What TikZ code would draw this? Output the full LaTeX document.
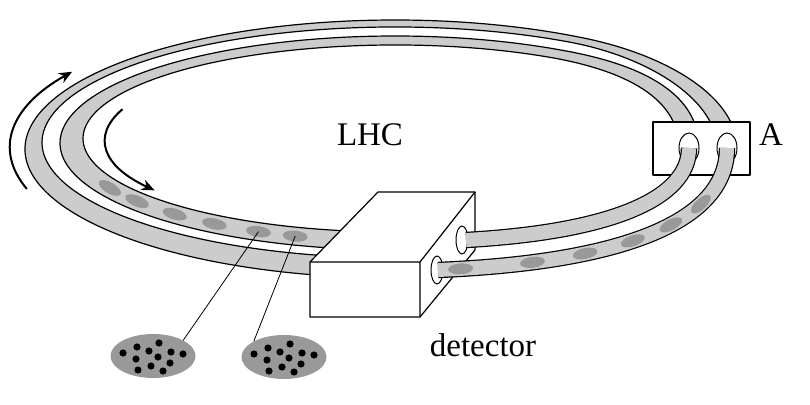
\documentclass[tikz,border=0pt]{standalone}
\usepackage{fontspec}
\setmainfont{Liberation Serif}
\usetikzlibrary{shapes.geometric}
\usetikzlibrary{arrows.meta}
\usetikzlibrary{calc}
\definecolor{tubegray}{HTML}{CCCCCC}
\definecolor{bunchgray}{HTML}{999999}

\begin{document}
\begin{tikzpicture}[x=1pt,y=1pt,
    wall/.style={draw=black,line width=1.2pt,fill=tubegray,line join=round},
    tube/.style={draw=black,line width=1.2pt,double=tubegray,double distance=14pt},
    bunch/.style={ellipse,fill=bunchgray,inner sep=0pt,minimum width=25pt,minimum height=11pt},
    beam/.style={ellipse,fill=bunchgray,inner sep=0pt,minimum width=85pt,minimum height=44pt},
    hole/.style={ellipse,draw,line width=1pt,fill=white,inner sep=0pt},
    turn/.style={line width=2pt,-{Stealth[length=13pt,width=11pt]}},
    box/.style={draw,line width=1.2pt,fill=white,line join=round}]
  \useasboundingbox (0,0) rectangle (810,404);

  % ring, outer beam pipe
  \filldraw[wall] (395,255) ++(262:370 and 129) arc[start angle=262,end angle=60,x radius=370,y radius=129]
    .. controls +(-11:90) and +(90:50) .. (737,256) -- (717,256)
    .. controls +(90:45) and +(-11:85) .. ($(395,261.5)+(60:353 and 115.5)$)
    arc[start angle=60,end angle=262,x radius=353,y radius=115.5] -- cycle;
  % ring, inner beam pipe
  \filldraw[wall] (395,261) ++(262:335 and 107) arc[start angle=262,end angle=60,x radius=335,y radius=107]
    .. controls +(-10:90) and +(90:50) .. (699,256) -- (679,256)
    .. controls +(90:45) and +(-10:85) .. ($(395,265.5)+(60:312 and 93.5)$)
    arc[start angle=60,end angle=262,x radius=312,y radius=93.5] -- cycle;
  \foreach \a [count=\i] in {208,217,227,236,245,252}
    \node[bunch,rotate={atan(100*cos(\a)/(-323*sin(\a)))}] (d\i) at ($(395,263)+(\a:323 and 100)$) {};

  % direction of the beams
  \draw[turn] (395,256) ++(197:385 and 140) arc[start angle=197,end angle=147,x radius=385,y radius=140];
  \draw[turn] (395,264) ++(160:290 and 90) arc[start angle=160,end angle=214,x radius=290,y radius=90];

  % A
  \draw[box] (653,229) rectangle (750,282);
  \node[font=\fontsize{33}{33}\selectfont] (A) at (771,269) {A};
  \node[hole,minimum width=20pt,minimum height=30pt] (ha) at (689,256) {};
  \node[hole,minimum width=20pt,minimum height=30pt] (hb) at (727,256) {};

  % detector
  \draw[box] (310,142) -- (378,212) -- (475,212) -- (475,154) -- (420,87) -- (310,87) -- cycle;
  \draw[line width=1.2pt,line join=round] (310,142) -- (420,142) -- (475,212) (420,142) -- (420,87);
  \node[hole,minimum width=12pt,minimum height=28pt] (hc) at (462,164) {};
  \node[hole,minimum width=12pt,minimum height=28pt] (hd) at (437,134) {};
  \node[font=\fontsize{33}{33}\selectfont] (det) at (483,59) {detector};

  \draw[tube] (689,256) .. controls (689,205) and (610,172) .. (466,164);
  \draw[tube] (727,256) .. controls (727,185) and (630,142) .. (438,134)
    \foreach \p [count=\i] in {0.3,0.44,0.57,0.7,0.82,0.96} {node[bunch,sloped,pos=\p] (e\i) {}};

  \node (LHC) at (370,269) {\fontsize{33}{33}\selectfont LHC};

  % bunches
  \node[beam] (b1) at (153,48) {};
  \node[beam] (b2) at (284,47) {};
  \draw[line width=0.8pt] (d5.center) -- (b1.north east);
  \draw[line width=0.8pt] (d6.center) -- (b2.north west);
  \foreach \b in {b1,b2}
    \foreach \dx/\dy in {-30/3,-16/9,-4/5,6/13,18/4,30/2,-17/-3,5/-1,17/-7,-15/-14,-2/-10,10/-15}
      \fill ($(\b)+(\dx,\dy)$) circle (3.6);
\end{tikzpicture}
\end{document}
